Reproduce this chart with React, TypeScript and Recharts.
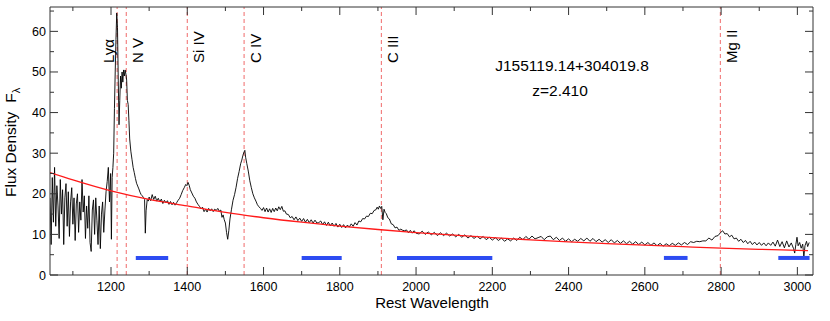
import React from 'react';
import { ComposedChart, Line, XAxis, YAxis, ReferenceLine } from 'recharts';

const FONT = '"Liberation Sans", Arial, Helvetica, sans-serif';

// ---- axes ----
const xDomain = [1040, 3041];
const yDomain = [0, 66];
const xTicks = [1100, 1200, 1300, 1400, 1500, 1600, 1700, 1800, 1900, 2000, 2100, 2200, 2300, 2400, 2500, 2600, 2700, 2800, 2900, 3000];
const xTickLabels = [1200, 1400, 1600, 1800, 2000, 2200, 2400, 2600, 2800, 3000];
const yTicks = [0, 5, 10, 15, 20, 25, 30, 35, 40, 45, 50, 55, 60, 65];
const yTickLabels = [0, 10, 20, 30, 40, 50, 60];

// ---- spectrum segments [rest wavelength, flux] ----
const forestSegment: [number, number][] = [
  [1040, 19], [1043, 7.5], [1046, 24], [1049, 13], [1052, 26.5], [1055, 12], [1058, 22], [1061, 17],
  [1064, 9], [1067, 23.5], [1070, 15], [1073, 21], [1076, 7.5], [1079, 19], [1082, 22.5], [1085, 12],
  [1088, 20.5], [1091, 9.5], [1094, 18], [1097, 21.5], [1100, 12.5], [1103, 19], [1106, 8.5], [1109, 17.5],
  [1112, 20], [1115, 10.5], [1118, 18], [1121, 13.5], [1124, 23.5], [1127, 15.5], [1130, 19.5], [1133, 9],
  [1136, 17], [1139, 11.5], [1142, 19.5], [1145, 8], [1148, 5.8], [1151, 16], [1154, 18.5], [1157, 10],
  [1160, 19], [1163, 13.5], [1166, 7.5], [1169, 17], [1172, 6.5], [1175, 15], [1178, 18], [1181, 10.5],
  [1184, 16], [1187, 20.5], [1190, 23], [1193, 26.5], [1196, 18], [1199, 25], [1201, 8.8], [1203, 24], [1205, 26.5],
];

const lyaSegment: [number, number][] = [
  [1207, 30], [1209, 41], [1211, 50], [1213, 58], [1215, 64.5], [1217, 61], [1219, 48], [1221, 37],
  [1223, 43], [1225, 49], [1227, 46], [1229, 50], [1231, 47.5], [1233, 50.5], [1235, 49], [1237, 50.5],
  [1239, 49.5], [1241, 48], [1243, 43], [1245, 42], [1247, 38], [1249, 33.5], [1252, 30.5], [1255, 28.5],
  [1258, 26.5], [1261, 25.2], [1264, 23.8], [1267, 22.6], [1270, 21.9], [1273, 21.2], [1276, 20.4], [1279, 19.8],
  [1282, 19.5], [1285, 19.1], [1288, 18.6], [1290, 10.3], [1292, 15.8], [1295, 18.6], [1298, 18.2],
];

const civSegment: [number, number][] = [
  [1300, 19.2], [1304, 18.3], [1308, 19.8], [1312, 18.6], [1316, 19.4], [1320, 18.2], [1324, 18.9], [1328, 18.0],
  [1332, 18.7], [1336, 17.6], [1340, 18.4], [1344, 17.8], [1348, 18.3], [1352, 17.4], [1356, 18.1], [1360, 17.3],
  [1364, 17.9], [1368, 17.2], [1372, 17.8], [1376, 18.4], [1380, 18.9], [1384, 19.8], [1388, 20.8], [1392, 21.5],
  [1396, 22.3], [1399, 22.0], [1402, 22.8], [1405, 22.1], [1408, 21.0], [1412, 20.2], [1416, 19.4], [1420, 18.9],
  [1424, 18.0], [1428, 17.4], [1432, 16.9], [1436, 16.3], [1440, 16.7], [1444, 15.6], [1448, 16.2], [1452, 15.5],
  [1456, 16.4], [1460, 15.8], [1464, 16.3], [1468, 15.6], [1472, 16.2], [1476, 15.9], [1480, 16.4], [1484, 15.7],
  [1488, 16.0], [1491, 14.2], [1494, 14.8], [1497, 13.6], [1500, 12.8], [1503, 10.5], [1506, 8.8], [1509, 11.0],
  [1512, 13.8], [1516, 16.2], [1520, 18.4], [1524, 19.8], [1528, 21.6], [1532, 23.8], [1536, 25.5], [1540, 27.4],
  [1543, 28.3], [1546, 29.5], [1549, 30.3], [1551, 30.7], [1553, 29.0], [1556, 27.5], [1560, 25.6], [1564, 23.2],
  [1568, 21.5], [1572, 20.0], [1576, 19.0], [1580, 18.2], [1584, 17.3], [1588, 16.8], [1592, 16.4], [1596, 15.9],
  [1600, 16.6], [1604, 15.6], [1608, 16.5], [1612, 15.5], [1616, 16.3], [1620, 15.4], [1624, 16.4], [1628, 15.6],
  [1632, 16.5], [1636, 15.8], [1640, 16.8], [1644, 16.1], [1648, 16.9], [1652, 15.7],
];

const ciiiSegment: [number, number][] = [
  [1656, 15.8], [1660, 15.0], [1665, 14.9], [1670, 14.1], [1675, 14.4], [1680, 13.6], [1685, 14.3], [1690, 13.4],
  [1695, 14.0], [1700, 13.2], [1705, 13.9], [1710, 13.0], [1715, 13.7], [1720, 12.9], [1725, 13.6], [1730, 12.8],
  [1735, 13.5], [1740, 12.8], [1745, 12.9], [1750, 13.3], [1755, 12.4], [1760, 13.1], [1765, 12.2], [1770, 13.0],
  [1775, 12.1], [1780, 12.8], [1785, 12.0], [1790, 12.7], [1795, 11.8], [1800, 12.5], [1805, 11.7], [1810, 12.4],
  [1815, 11.6], [1820, 12.3], [1825, 11.8], [1830, 12.6], [1835, 12.0], [1840, 12.9], [1845, 12.3], [1850, 13.3],
  [1855, 13.1], [1860, 13.9], [1865, 13.8], [1870, 14.5], [1875, 14.4], [1880, 15.2], [1885, 15.1], [1890, 15.9],
  [1894, 16.0], [1898, 16.7], [1901, 16.2], [1904, 17.0], [1907, 16.4], [1910, 16.9], [1913, 13.6], [1916, 16.2],
  [1919, 15.4], [1922, 15.1], [1926, 14.1], [1930, 13.8], [1935, 12.6], [1940, 12.4], [1945, 11.6], [1950, 11.8],
  [1955, 11.0], [1960, 11.3], [1965, 11.0], [1970, 10.9], [1975, 11.1], [1980, 10.4], [1985, 11.0], [1990, 10.3],
  [1995, 10.9], [2000, 10.3],
];

const redSegment: [number, number][] = [
  [2008, 10.1], [2016, 10.8], [2024, 10.0], [2032, 10.6], [2040, 9.9], [2048, 10.5], [2056, 9.7], [2064, 10.4],
  [2072, 9.7], [2080, 10.3], [2088, 9.6], [2096, 10.1], [2104, 9.4], [2112, 10.0], [2120, 9.3], [2128, 9.9],
  [2136, 9.1], [2144, 9.7], [2152, 9.0], [2160, 9.6], [2168, 8.9], [2176, 9.5], [2184, 8.7], [2192, 9.3],
  [2200, 8.6], [2208, 9.2], [2216, 8.5], [2224, 9.1], [2232, 8.3], [2240, 8.9], [2248, 8.4], [2256, 9.1],
  [2264, 8.5], [2272, 9.3], [2280, 8.7], [2288, 9.5], [2296, 8.8], [2304, 9.6], [2312, 8.9], [2320, 9.2],
  [2328, 9.5], [2336, 8.7], [2344, 9.4], [2352, 9.6], [2360, 8.7], [2368, 9.3], [2376, 8.5], [2384, 9.1],
  [2392, 8.3], [2400, 8.9], [2408, 8.2], [2416, 8.8], [2424, 8.3], [2432, 9.0], [2440, 8.4], [2448, 9.1],
  [2456, 8.3], [2464, 9.0], [2472, 8.2], [2480, 8.8], [2488, 8.1], [2496, 8.7], [2504, 8.0], [2512, 8.7],
  [2520, 7.9], [2528, 8.5], [2536, 7.8], [2544, 8.4], [2552, 7.7], [2560, 8.3], [2568, 7.6], [2576, 8.2],
  [2584, 7.5], [2592, 8.1], [2600, 7.4], [2608, 8.0], [2616, 7.3], [2624, 7.9], [2632, 7.2], [2640, 7.8],
  [2648, 7.1], [2656, 7.7], [2664, 7.2], [2672, 7.8], [2680, 7.3], [2688, 7.9], [2696, 7.4], [2704, 8.0],
  [2712, 7.5], [2720, 8.2], [2728, 8.0], [2736, 8.3], [2744, 8.2], [2752, 8.4], [2760, 8.4], [2768, 9.1],
  [2776, 8.6], [2784, 9.5], [2792, 9.7], [2798, 10.4], [2804, 10.9], [2810, 10.1], [2816, 10.2], [2822, 9.4],
  [2828, 9.8], [2834, 8.9], [2840, 9.1], [2846, 8.3], [2852, 8.8], [2858, 8.0], [2864, 8.5], [2870, 7.7],
  [2876, 8.3], [2882, 7.5], [2888, 8.1], [2894, 7.4], [2900, 8.0], [2906, 7.3], [2912, 7.9], [2918, 7.2],
  [2924, 7.9], [2930, 7.3], [2936, 8.1], [2942, 7.1], [2948, 8.6], [2954, 7.0], [2960, 8.2], [2966, 6.7],
  [2972, 8.4], [2978, 6.9], [2984, 7.9], [2990, 6.5], [2993, 5.4], [2996, 7.5], [2999, 9.3], [3002, 7.2],
  [3006, 8.0], [3010, 6.6], [3014, 7.6], [3017, 4.5], [3020, 7.2], [3024, 8.3], [3027, 7.0], [3031, 8.0],
];

// ---- power-law continuum fit ----
const contWave = [1040, 1100, 1200, 1300, 1400, 1500, 1600, 1700, 1800, 1900, 2000, 2100, 2200, 2300, 2400, 2500, 2600, 2700, 2800, 2900, 3000, 3028];
const contFlux = [25.2, 23.4, 20.7, 18.6, 17.0, 15.4, 14.1, 13.0, 12.05, 11.2, 10.45, 9.8, 9.2, 8.67, 8.18, 7.75, 7.35, 6.98, 6.62, 6.32, 6.06, 5.98];

// ---- continuum windows (blue bars) ----
const windowStarts = [1265, 1700, 1950, 2650, 2950];
const windowEnds = [1350, 1805, 2200, 2712, 3032];
const windowLevel = 4.2;

// ---- emission lines ----
const lineNames = ['Lyα', 'N V', 'Si IV', 'C IV', 'C III', 'Mg II'];
const lineWaves = [1216, 1240, 1400, 1549, 1909, 2798];

const objectName = 'J155119.14+304019.8';
const redshiftText = 'z=2.410';

const spectrum = [...forestSegment, ...lyaSegment, ...civSegment, ...ciiiSegment, ...redSegment].map(([w, f]) => ({ w, f }));
const continuum = contWave.map((w, i) => ({ w, c: contFlux[i] }));
const windows = windowStarts.map((s, i) => [
  { w: s, b: windowLevel },
  { w: windowEnds[i], b: windowLevel },
]);

const AXIS = '#333';
const MAJ = 8;
const MIN = 4;

const BottomTick = (props: any) => {
  const { x, y, payload } = props;
  const major = xTickLabels.includes(payload.value);
  return (
    <g>
      <line x1={x} x2={x} y1={y} y2={y - (major ? MAJ : MIN)} stroke={AXIS} strokeWidth={1} />
      {major && (
        <text x={x} y={y + 16} textAnchor="middle" fontSize={12.5} fontFamily={FONT} fill="#000">
          {payload.value}
        </text>
      )}
    </g>
  );
};

const TopTick = (props: any) => {
  const { x, y, payload } = props;
  const major = xTickLabels.includes(payload.value);
  return <line x1={x} x2={x} y1={y} y2={y + (major ? MAJ : MIN)} stroke={AXIS} strokeWidth={1} />;
};

const LeftTick = (props: any) => {
  const { x, y, payload } = props;
  const major = yTickLabels.includes(payload.value);
  return (
    <g>
      <line x1={x} x2={x + (major ? MAJ : MIN)} y1={y} y2={y} stroke={AXIS} strokeWidth={1} />
      {major && (
        <text x={x - 4} y={y + 4.5} textAnchor="end" fontSize={12.5} fontFamily={FONT} fill="#000">
          {payload.value}
        </text>
      )}
    </g>
  );
};

const RightTick = (props: any) => {
  const { x, y, payload } = props;
  const major = yTickLabels.includes(payload.value);
  return <line x1={x} x2={x - (major ? MAJ : MIN)} y1={y} y2={y} stroke={AXIS} strokeWidth={1} />;
};

const makeLineLabel = (name: string) => (props: any) => {
  const vb = props.viewBox || {};
  const dx = name === 'Lyα' ? -3 : 17;
  const lx = vb.x + dx;
  const ly = vb.y + 56;
  return (
    <text
      x={lx}
      y={ly}
      transform={`rotate(-90 ${lx} ${ly})`}
      textAnchor="start"
      fontSize={15}
      fontFamily={FONT}
      fill="#000"
    >
      {name}
    </text>
  );
};

export default function App() {
  return (
    <div style={{ position: 'absolute', left: 0, top: 0, width: 830, height: 321, background: '#fff' }}>
      <ComposedChart
        width={830}
        height={321}
        margin={{ top: 0, right: 0, bottom: 0, left: 0 }}
      >
        <XAxis
          xAxisId={0}
          dataKey="w"
          type="number"
          domain={xDomain}
          allowDataOverflow
          ticks={xTicks}
          interval={0}
          tickSize={0}
          tickMargin={0}
          tick={<BottomTick />}
          height={46}
          axisLine={{ stroke: AXIS, strokeWidth: 1 }}
        />
        <XAxis
          xAxisId="top"
          orientation="top"
          dataKey="w"
          type="number"
          domain={xDomain}
          allowDataOverflow
          ticks={xTicks}
          interval={0}
          tickSize={0}
          tickMargin={0}
          tick={<TopTick />}
          height={7}
          axisLine={{ stroke: AXIS, strokeWidth: 1 }}
        />
        <YAxis
          yAxisId={0}
          type="number"
          domain={yDomain}
          allowDataOverflow
          ticks={yTicks}
          interval={0}
          tickSize={0}
          tickMargin={0}
          tick={<LeftTick />}
          width={50}
          axisLine={{ stroke: AXIS, strokeWidth: 1 }}
        />
        <YAxis
          yAxisId="right"
          orientation="right"
          type="number"
          domain={yDomain}
          allowDataOverflow
          ticks={yTicks}
          interval={0}
          tickSize={0}
          tickMargin={0}
          tick={<RightTick />}
          width={17}
          axisLine={{ stroke: AXIS, strokeWidth: 1 }}
        />
        {lineWaves.map((lw, i) => (
          <ReferenceLine
            key={lineNames[i]}
            x={lw}
            stroke="#f06a6a"
            strokeWidth={1}
            strokeDasharray="4 3"
            label={makeLineLabel(lineNames[i])}
          />
        ))}
        <Line
          data={spectrum}
          dataKey="f"
          stroke="#000"
          strokeWidth={0.9}
          dot={false}
          isAnimationActive={false}
          type="linear"
        />
        <Line
          data={continuum}
          dataKey="c"
          stroke="#ff1a1a"
          strokeWidth={1.3}
          dot={false}
          isAnimationActive={false}
          type="monotone"
        />
        {windows.map((seg, i) => (
          <Line
            key={`win${i}`}
            data={seg}
            dataKey="b"
            stroke="#2d4cf2"
            strokeWidth={4}
            dot={false}
            isAnimationActive={false}
            type="linear"
          />
        ))}
      </ComposedChart>
      <svg
        width={830}
        height={321}
        style={{ position: 'absolute', left: 0, top: 0, pointerEvents: 'none' }}
      >
        <text x={432} y={308} textAnchor="middle" fontSize={15} fontFamily={FONT} fill="#000">
          Rest Wavelength
        </text>
        <text transform="rotate(-90 16 197)" x={16} y={197} textAnchor="start" fontSize={15.5} fontFamily={FONT} fill="#000">
          Flux Density
          <tspan dx={9}>F</tspan>
          <tspan fontSize={11} dy={4}>λ</tspan>
        </text>
        <text x={572} y={71} textAnchor="middle" fontSize={15.5} fontFamily={FONT} fill="#000">
          {objectName}
        </text>
        <text x={560} y={96} textAnchor="middle" fontSize={15.5} fontFamily={FONT} fill="#000">
          {redshiftText}
        </text>
      </svg>
    </div>
  );
}
